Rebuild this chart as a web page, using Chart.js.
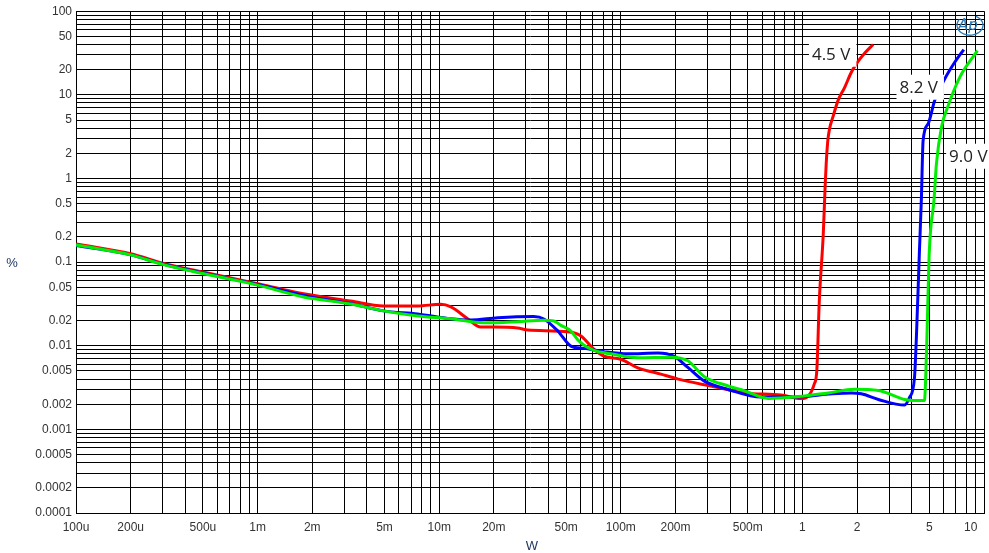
<!DOCTYPE html>
<html>
<head>
<meta charset="utf-8">
<script src="https://cdn.jsdelivr.net/npm/chart.js@4.4.1/dist/chart.umd.min.js"></script>
<style>
  html, body { margin: 0; padding: 0; background: #fff; }
  #wrap { width: 989px; height: 553px; }
</style>
</head>
<body>
<div id="wrap"><canvas id="chart" width="989" height="553"></canvas></div>
<script>
// THD+N (%) vs output power (W), three supply voltages
const redW = [1e-4, 2e-4, 3e-4, 5e-4, 1e-3, 1.57e-3, 2.13e-3, 3.24e-3, 4.93e-3, 7.6e-3, 0.0102, 0.0116, 0.0144, 0.0169, 0.020, 0.027, 0.0308, 0.0511, 0.0603, 0.0711, 0.0807, 0.100, 0.124, 0.166, 0.207, 0.314, 0.478, 0.764, 0.984, 1.076, 1.162, 1.20, 1.239, 1.303, 1.336, 1.352, 1.38, 1.41, 1.47, 1.57, 1.71, 1.86, 1.98, 2.20, 2.45];
const redPct = [0.165, 0.126, 0.097, 0.076, 0.055, 0.0443, 0.0394, 0.0343, 0.0299, 0.0299, 0.0313, 0.0291, 0.0209, 0.0167, 0.0167, 0.0163, 0.0154, 0.0147, 0.0131, 0.0091, 0.0075, 0.0069, 0.00545, 0.00458, 0.00399, 0.00329, 0.00273, 0.00257, 0.00234, 0.0025, 0.00348, 0.005, 0.0343, 0.218, 0.865, 1.49, 2.83, 3.91, 5.37, 8.53, 12.3, 18.6, 23.4, 31.4, 40.0];

const blueW = [1e-4, 2e-4, 3e-4, 5e-4, 1e-3, 2e-3, 3.24e-3, 4.93e-3, 7.6e-3, 0.0116, 0.0149, 0.021, 0.0332, 0.0377, 0.045, 0.0531, 0.0625, 0.0807, 0.109, 0.160, 0.196, 0.234, 0.287, 0.39, 0.593, 0.902, 1.39, 1.86, 2.11, 2.62, 3.65, 3.88, 4.14, 4.25, 4.41, 4.52, 4.62, 4.92, 5.35, 6.08, 6.90, 7.74];
const bluePct = [0.158, 0.122, 0.095, 0.074, 0.054, 0.038, 0.032, 0.0261, 0.024, 0.021, 0.0203, 0.0216, 0.0223, 0.0209, 0.015, 0.0099, 0.0093, 0.0085, 0.0080, 0.0082, 0.0075, 0.0055, 0.0038, 0.0030, 0.00243, 0.00243, 0.00264, 0.00273, 0.00266, 0.00228, 0.00195, 0.00239, 0.0041, 0.0138, 0.136, 0.566, 2.83, 4.48, 8.53, 15.5, 24.5, 34.8];

const greenW = [1e-4, 2e-4, 3e-4, 5e-4, 1e-3, 1.79e-3, 3.24e-3, 4.93e-3, 7.6e-3, 0.0116, 0.0176, 0.027, 0.0377, 0.0428, 0.0468, 0.0531, 0.0579, 0.0625, 0.0711, 0.0881, 0.124, 0.189, 0.234, 0.287, 0.39, 0.478, 0.648, 0.902, 1.39, 1.93, 2.62, 3.65, 4.14, 4.70, 4.82, 5.0, 5.31, 5.47, 5.83, 6.35, 7.35, 9.20];
const greenPct = [0.16, 0.122, 0.094, 0.073, 0.053, 0.0383, 0.0316, 0.0261, 0.0227, 0.021, 0.0188, 0.0194, 0.0202, 0.0198, 0.0175, 0.015, 0.0118, 0.0102, 0.0088, 0.008, 0.0072, 0.0073, 0.0066, 0.0043, 0.0033, 0.0029, 0.00234, 0.00243, 0.00273, 0.00301, 0.00292, 0.00228, 0.00222, 0.00222, 0.008, 0.136, 0.566, 1.49, 4.08, 7.43, 16.2, 33.8];

// tick labels (the last one is padded so it stays inside the picture)
const xTickVals = [1e-4, 2e-4, 5e-4, 1e-3, 2e-3, 5e-3, 1e-2, 2e-2, 5e-2, 0.1, 0.2, 0.5, 1, 2, 5, 10];
const xTickText = ['100u', '200u', '500u', '1m', '2m', '5m', '10m', '20m', '50m', '100m', '200m', '500m', '1', '2', '5', '10        '];
const yTickVals = [1e-4, 2e-4, 5e-4, 1e-3, 2e-3, 5e-3, 1e-2, 2e-2, 5e-2, 0.1, 0.2, 0.5, 1, 2, 5, 10, 20, 50, 100];
const yTickText = ['0.0001', '0.0002', '0.0005', '0.001', '0.002', '0.005', '0.01', '0.02', '0.05', '0.1', '0.2', '0.5', '1', '2', '5', '10', '20', '50', '100'];

// curve annotations
const voltLabels = ['4.5 V', '8.2 V', '9.0 V'];
const voltLabelW = [1.44, 4.37, 8.2];
const voltLabelPct = [31, 12.5, 1.87];

const toPoints = (xs, ys) => xs.map((x, i) => ({ x: x, y: ys[i] }));

// every 1..9 step of each decade, for the grid
function logGrid(min, max) {
    const out = [];
    for (let e = Math.round(Math.log10(min)); e < Math.round(Math.log10(max)); e++) {
        for (let m = 1; m < 10; m++) out.push(m * Math.pow(10, e));
    }
    out.push(max);
    return out;
}

function labelFor(v, vals, texts) {
    for (let i = 0; i < vals.length; i++) {
        if (Math.abs(v - vals[i]) / vals[i] < 1e-6) return texts[i];
    }
    return '';
}

const tickFont = { family: '"Liberation Sans", Arial, sans-serif', size: 12 };

const overlay = {
    id: 'overlay',
    afterDatasetsDraw(chart) {
        const { ctx, chartArea, scales } = chart;
        ctx.save();
        ctx.font = '17px "Open Sans", sans-serif';
        ctx.textBaseline = 'middle';
        ctx.textAlign = 'center';
        voltLabels.forEach((t, i) => {
            const px = scales.x.getPixelForValue(voltLabelW[i]);
            const py = scales.y.getPixelForValue(voltLabelPct[i]);
            const w = ctx.measureText(t).width;
            ctx.fillStyle = '#fff';
            ctx.fillRect(px - w / 2 - 3, py - 12, w + 9, 25);
            ctx.fillStyle = '#222';
            ctx.fillText(t, px, py + 1);
        });

        // AP logo
        const lx = chartArea.right - 16, ly = chartArea.top + 14;
        ctx.strokeStyle = '#2a7ab8';
        ctx.lineWidth = 1.3;
        ctx.beginPath();
        ctx.ellipse(lx + 2, ly, 13, 10, 0, -Math.PI * 0.35, Math.PI * 1.2);
        ctx.stroke();
        ctx.fillStyle = '#2a7ab8';
        ctx.font = 'italic 15px "DejaVu Sans", sans-serif';
        ctx.fillText('Ap', lx, ly + 1);

        // axis names
        ctx.fillStyle = '#1f3864';
        ctx.font = '13px "Liberation Sans", Arial, sans-serif';
        ctx.fillText('%', 12, (chartArea.top + chartArea.bottom) / 2 + 1);
        ctx.fillText('W', (chartArea.left + chartArea.right) / 2 + 2, 546);
        ctx.restore();
    }
};

const ctx = document.querySelector('#chart').getContext('2d');
const chart = new Chart(ctx, {
    type: 'line',
    data: {
        datasets: [
            {
                label: '9.0 V',
                data: toPoints(greenW, greenPct),
                borderColor: '#00ee00',
            },
            {
                label: '8.2 V',
                data: toPoints(blueW, bluePct),
                borderColor: '#0000ff',
            },
            {
                label: '4.5 V',
                data: toPoints(redW, redPct),
                borderColor: '#ff0000',
            }
        ]
    },
    options: {
        responsive: false,
        animation: false,
        layout: { padding: { top: 10, right: 5, left: 0, bottom: 0 } },
        elements: {
            line: { borderWidth: 3, cubicInterpolationMode: 'monotone', fill: false },
            point: { radius: 0 }
        },
        scales: {
            x: {
                type: 'logarithmic',
                min: 1e-4,
                max: 10,
                afterBuildTicks: (scale) => {
                    scale.ticks = logGrid(1e-4, 10).map(v => ({ value: v }));
                },
                afterFit: (scale) => {
                    scale.height = 40;
                    scale.paddingRight = 0;
                },
                ticks: {
                    autoSkip: false,
                    maxRotation: 0,
                    padding: 7,
                    color: '#333',
                    font: tickFont,
                    callback: (v) => labelFor(v, xTickVals, xTickText)
                },
                grid: { color: '#000', lineWidth: 1, drawTicks: false },
                border: { color: '#000' }
            },
            y: {
                type: 'logarithmic',
                min: 1e-4,
                max: 100,
                afterBuildTicks: (scale) => {
                    scale.ticks = logGrid(1e-4, 100).map(v => ({ value: v }));
                },
                afterFit: (scale) => { scale.width = 76; },
                ticks: {
                    autoSkip: false,
                    padding: 4,
                    color: '#333',
                    font: tickFont,
                    callback: (v) => labelFor(v, yTickVals, yTickText)
                },
                grid: { color: '#000', lineWidth: 1, drawTicks: false },
                border: { color: '#000' }
            }
        },
        plugins: {
            legend: { display: false },
            tooltip: { enabled: false }
        }
    },
    plugins: [overlay]
});
</script>
</body>
</html>
